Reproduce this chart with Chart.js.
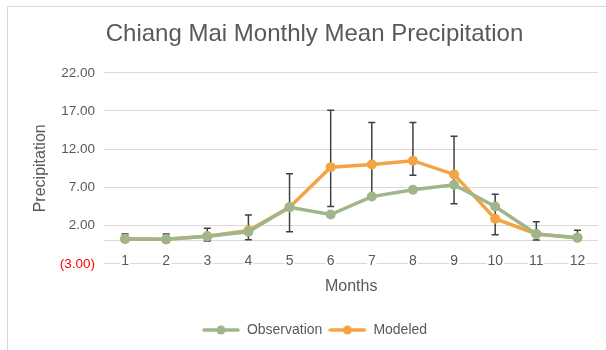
<!DOCTYPE html>
<html>
<head>
<meta charset="utf-8">
<script src="https://cdn.jsdelivr.net/npm/chart.js@4"></script>
<style>
  html, body { margin: 0; padding: 0; background: #fff; }
  #wrap  { position: relative; width: 606px; height: 350px; overflow: hidden; }
  #frame { position: absolute; left: 7px; top: 6px; width: 640px; height: 380px;
           border: 1px solid #d9d9d9; box-sizing: border-box; }
  #chart { position: absolute; left: 0; top: 0; }
</style>
</head>
<body>
<div id="wrap">
  <div id="frame"></div>
  <canvas id="chart" width="606" height="350"></canvas>
</div>
<script>
// ── Data ────────────────────────────────────────────────────────────────────
const months      = ['1', '2', '3', '4', '5', '6', '7', '8', '9', '10', '11', '12'];
const observation = [0.25, 0.2, 0.6, 1.2, 4.4, 3.45, 5.8, 6.7, 7.35, 4.5, 0.9, 0.4];
const modeled     = [0.25, 0.2, 0.6, 1.35, 4.4, 9.65, 10.0, 10.5, 8.7, 2.9, 0.9, 0.4];
const errHigh     = [0.9, 0.9, 1.65, 3.4, 8.8, 17.1, 15.5, 15.5, 13.7, 6.1, 2.5, 1.4];
const errLow      = [0.0, 0.0, 0.0, 0.15, 1.2, 4.5, 5.7, 8.6, 4.85, 0.8, 0.1, 0.1];
const yTicks      = [-3, 0, 2, 7, 12, 17, 22];

// ── Style ───────────────────────────────────────────────────────────────────
const FONT   = "'Liberation Sans', Arial, sans-serif";
const GREY   = '#595959';
const GREEN  = '#9fb68b';
const ORANGE = '#f4a444';

/** Small canvas used as legend marker: line with a dot in the middle. */
function legendIcon(color) {
  const c = document.createElement('canvas');
  c.width = 38; c.height = 12;
  const g = c.getContext('2d');
  g.strokeStyle = color; g.lineWidth = 3.5; g.lineCap = 'round';
  g.beginPath(); g.moveTo(2, 6); g.lineTo(36, 6); g.stroke();
  g.fillStyle = color;
  g.beginPath(); g.arc(19, 6, 4.5, 0, Math.PI * 2); g.fill();
  return c;
}

// Error bars drawn underneath the series lines
const errorBars = {
  id: 'errorBars',
  beforeDatasetsDraw(chart) {
    const { ctx, scales: { x, y } } = chart;
    ctx.save();
    ctx.strokeStyle = '#404040';
    ctx.lineWidth = 1.5;
    months.forEach((m, i) => {
      const px  = x.getPixelForValue(i);
      const top = y.getPixelForValue(errHigh[i]);
      const bot = y.getPixelForValue(errLow[i]);
      ctx.beginPath();
      ctx.moveTo(px, top); ctx.lineTo(px, bot);
      ctx.moveTo(px - 3.5, top); ctx.lineTo(px + 3.5, top);
      ctx.moveTo(px - 3.5, bot); ctx.lineTo(px + 3.5, bot);
      ctx.stroke();
    });
    ctx.restore();
  }
};

// Month labels sit on the bottom gridline (Excel "low" label position),
// which Chart.js would clip, so they are drawn here from the x scale.
const lowLabels = {
  id: 'lowLabels',
  beforeDatasetsDraw(chart) {
    const { ctx, scales: { x, y } } = chart;
    const py = y.getPixelForValue(yTicks[0]) - 3;
    ctx.save();
    ctx.font = '14px ' + FONT;
    ctx.textAlign = 'center';
    ctx.textBaseline = 'middle';
    months.forEach((m, i) => {
      const px = x.getPixelForValue(i);
      const w = ctx.measureText(m).width;
      ctx.fillStyle = '#fff';
      ctx.fillRect(px - w / 2 - 1, py - 3, w + 2, 7);
      ctx.fillStyle = GREY;
      ctx.fillText(m, px, py);
    });
    ctx.restore();
  }
};

const lineStyle = color => ({
  borderColor: color,
  backgroundColor: color,
  borderWidth: 3.5,
  pointRadius: 5,
  pointHoverRadius: 5,
  pointBorderWidth: 0,
  tension: 0,
});

new Chart(document.getElementById('chart'), {
  type: 'line',
  data: {
    labels: months,
    datasets: [
      { label: 'Observation', data: observation, ...lineStyle(GREEN) },
      { label: 'Modeled',     data: modeled,     ...lineStyle(ORANGE) },
    ]
  },
  plugins: [lowLabels, errorBars],
  options: {
    responsive: false,
    animation: false,
    layout: { padding: { left: 31, right: 8, top: 18, bottom: 3 } },
    plugins: {
      title: {
        display: true,
        text: 'Chiang Mai Monthly Mean Precipitation',
        color: GREY,
        font: { family: FONT, size: 24, weight: 'normal' },
        padding: { top: 2, bottom: 24 },
      },
      legend: {
        position: 'bottom',
        labels: {
          color: GREY,
          font: { family: FONT, size: 14 },
          usePointStyle: true,
          pointStyleWidth: 38,
          boxHeight: 12,
          padding: 6,
          generateLabels: chart => chart.data.datasets.map((ds, i) => ({
            text: ds.label,
            fontColor: GREY,
            pointStyle: legendIcon(ds.borderColor),
            datasetIndex: i,
            hidden: false,
            lineWidth: 0,
            strokeStyle: 'transparent',
            fillStyle: 'transparent',
          })),
        },
      },
      tooltip: { enabled: false },
    },
    scales: {
      x: {
        offset: true,
        grid: { display: false },
        border: { display: false },
        ticks: { display: false },
        title: {
          display: true, text: 'Months', color: GREY,
          font: { family: FONT, size: 16 }, padding: { top: 5, bottom: 21 },
        },
      },
      y: {
        min: -3, max: 22,
        afterBuildTicks: scale => { scale.ticks = yTicks.map(v => ({ value: v })); },
        grid: { color: '#d9d9d9', lineWidth: 1, drawTicks: false },
        border: { display: false },
        ticks: {
          padding: 9.5,
          font: { family: FONT, size: 13.5 },
          color: c => (c.tick && c.tick.value < 0 ? '#ff0000' : GREY),
          callback: v => v === 0 ? '' : (v < 0 ? '(' + Math.abs(v).toFixed(2) + ')' : v.toFixed(2)),
        },
        title: {
          display: true, text: 'Precipitation', color: GREY,
          font: { family: FONT, size: 16 }, padding: { top: 0, bottom: 0 },
        },
      },
    },
  },
});
</script>
</body>
</html>
